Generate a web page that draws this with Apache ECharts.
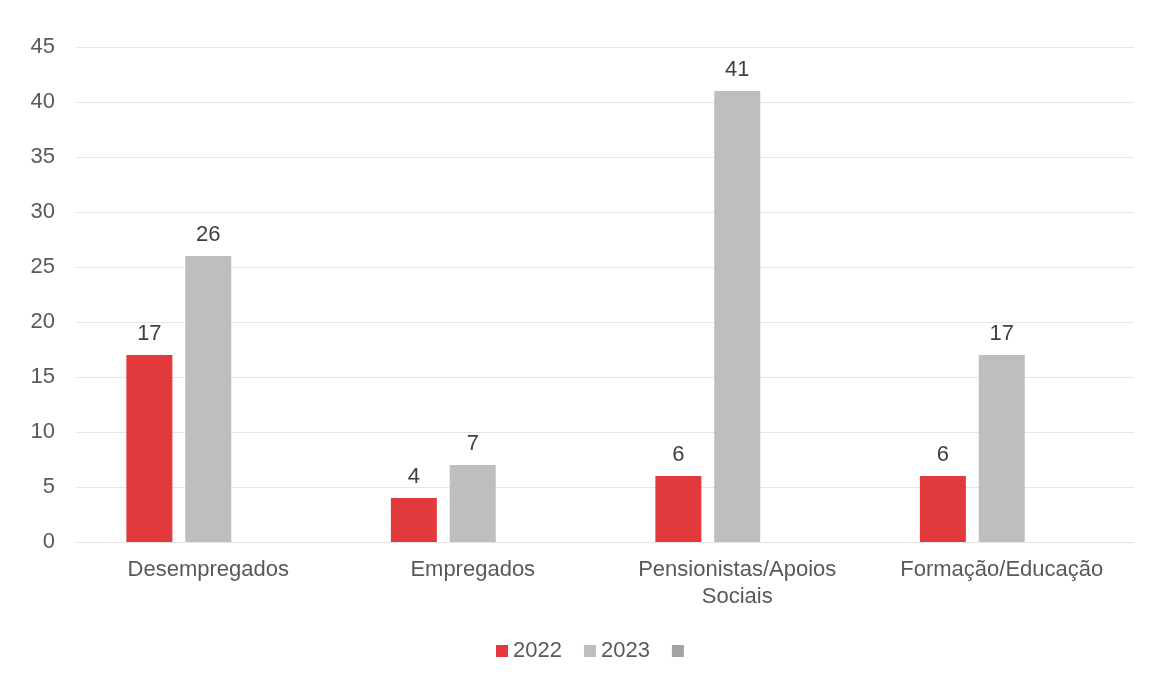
<!DOCTYPE html>
<html>
<head>
<meta charset="utf-8">
<script src="https://cdn.jsdelivr.net/npm/echarts@6/dist/echarts.min.js"></script>
<style>
  html, body { margin: 0; padding: 0; background: #ffffff; }
  #chart { width: 1149px; height: 679px; }
</style>
</head>
<body>
<div id="chart"></div>
<script>
// Categories (the third one wraps onto two lines)
const categories = ['Desempregados', 'Empregados', 'Pensionistas/Apoios\nSociais', 'Formação/Educação'];
// Values per year
const values2022 = [17, 4, 6, 6];
const values2023 = [26, 7, 41, 17];
// Third, unlabelled series kept in the legend with no values
const valuesExtra = [null, null, null, null];
// Value axis ticks
const yMin = 0, yMax = 45, yStep = 5;

const font = '"Liberation Sans", Arial, sans-serif';
const labelStyle = {
  show: true, position: 'top', distance: 10,
  color: '#404040', fontSize: 22, fontFamily: font
};

const chart = echarts.init(document.getElementById('chart'), null, { renderer: 'canvas' });
chart.setOption({
  backgroundColor: '#ffffff',
  animation: false,
  grid: { left: 76, right: 15, top: 47, bottom: 137, containLabel: false },
  legend: {
    top: 640, left: 496,
    icon: 'rect', itemWidth: 12, itemHeight: 12, itemGap: 22,
    padding: 0,
    textStyle: { color: '#595959', fontSize: 22, fontFamily: font },
    data: ['2022', '2023', ' ']
  },
  xAxis: {
    type: 'category',
    data: categories,
    axisTick: { show: false },
    axisLine: { show: true, lineStyle: { color: '#e3e3e3', width: 1 } },
    axisLabel: {
      interval: 0, margin: 14, color: '#595959',
      fontSize: 22, fontFamily: font, lineHeight: 27
    }
  },
  yAxis: {
    type: 'value',
    min: yMin, max: yMax, interval: yStep,
    axisLine: { show: false },
    axisTick: { show: false },
    splitLine: { lineStyle: { color: '#e6e6e6', width: 1 } },
    axisLabel: { margin: 21, color: '#595959', fontSize: 22, fontFamily: font }
  },
  series: [
    {
      name: '2022', type: 'bar', data: values2022,
      barWidth: 46, barGap: '28%',
      itemStyle: { color: '#e2393d' },
      label: labelStyle
    },
    {
      name: '2023', type: 'bar', data: values2023,
      barWidth: 46, barGap: '28%',
      itemStyle: { color: '#bebebe' },
      label: labelStyle
    },
    {
      name: ' ', type: 'bar', data: valuesExtra,
      barWidth: 46, barGap: '28%',
      itemStyle: { color: '#a3a3a3' },
      label: { show: false }
    }
  ]
});
</script>
</body>
</html>
